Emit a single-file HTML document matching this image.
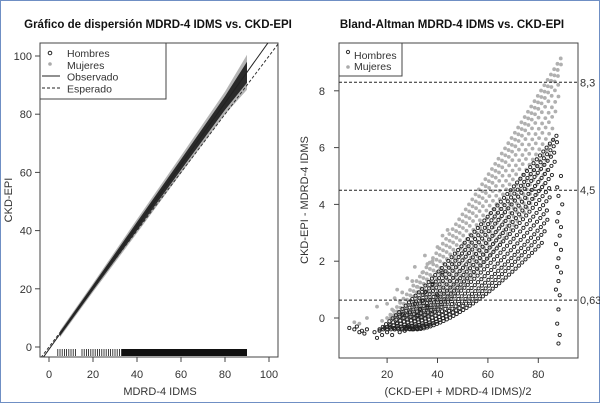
<!DOCTYPE html>
<html><head><meta charset="utf-8"><style>
body{margin:0;background:#fff}
svg{display:block;font-family:"Liberation Sans",sans-serif}
</style></head><body>
<svg id="c" width="600" height="403" viewBox="0 0 600 403">
<rect x="0.5" y="0.5" width="599" height="402" fill="#fff" stroke="#6f8fc4"/>
<text x="158" y="28" font-size="11.5" font-weight="bold" text-anchor="middle" fill="#111">Gráfico de dispersión MDRD-4 IDMS vs. CKD-EPI</text>
<text x="452" y="28" font-size="11.5" font-weight="bold" text-anchor="middle" fill="#111">Bland-Altman MDRD-4 IDMS vs. CKD-EPI</text>
<g id="L"></g>
<g id="R"></g>
</svg>
<script>
// ---- Left chart data ----
const leftXTicks=[0,20,40,60,80,100];
const leftYTicks=[0,20,40,60,80,100];
const obsSlope=1.058, obsIntercept=-0.8;
const bandX=[5,20,40,60,80,90];
const bandHalfWidth=[0.8,1.0,1.6,2.0,2.6,4.0];
const rugX=[4,5,6,7,8,9,10,11,12,15,16,17,18,19,20,21,22,23,24,25,26,27,28,29,30,31,32,33];
const rugSolidFrom=33, rugSolidTo=90;
// ---- Right chart data ----
const rightXTicks=[20,40,60,80];
const rightYTicks=[0,2,4,6,8];
const refLines=[8.3,4.5,0.63];
const refLabels=["8,3","4,5","0,63"];
const menEndX=[82,83,84,84.5,85,85.5,86,86.5,87,87.5,88];
const menEndY=[2.7,3.1,3.5,3.9,4.3,4.7,5.1,5.5,5.9,6.2,6.5];
const womenEndX=[83,84,85,86,86.5,87,88,88.5,89,89.5,90];
const womenEndY=[4.8,5.3,5.8,6.3,6.8,7.3,7.8,8.3,8.7,9.0,9.3];
const menTailX=[88,88.5,87.5,88,88.5,87,88,89,87.5,88,89,87,88.5,89,87.5,88,89.5,88,87.5,89];
const menTailY=[-0.9,-0.6,-0.2,0.3,0.8,1.0,1.3,1.6,1.8,2.1,2.4,2.6,2.9,3.2,3.4,3.7,4.0,4.3,4.6,5.0];
const menLowX=[5,7,8,9,10,11,12,15,16,17,18,19,20,21,22,23,24,25,26,27,28,29,30,31,32,33,34,35,36,38,40,42];
const menLowY=[-0.35,-0.4,-0.3,-0.5,-0.45,-0.55,-0.4,-0.5,-0.7,-0.45,-0.6,-0.35,-0.5,-0.3,-0.6,-0.4,-0.2,-0.5,0.1,-0.45,-0.3,0.2,-0.4,0.5,0.1,0.3,0.6,0.9,0.4,1.2,0.8,1.6];
const womenLowX=[7,9,12,16,18,20,22,23,24,25,26,28,30,31,32,34,35,36,38,40,42,44];
const womenLowY=[-0.15,-0.2,0.0,0.4,-0.1,0.5,0.3,0.7,1.0,0.6,0.9,1.4,1.3,1.8,1.1,1.6,2.2,1.9,2.0,2.5,2.9,3.1];

const NS="http://www.w3.org/2000/svg";
function mk(p,t,a){const e=document.createElementNS(NS,t);for(const k in a)e.setAttribute(k,a[k]);p.appendChild(e);return e;}
const L=document.getElementById('L'),R=document.getElementById('R');
const lx=v=>49+2.2*v, ly=v=>347-2.91*v;
let e;
e=mk(L,'rect',{x:40,y:43,width:238,height:314,fill:'none',stroke:'#444'});


leftXTicks.forEach(t=>{
 e=mk(L,'line',{x1:lx(t),x2:lx(t),y1:357,y2:362,stroke:'#444'});
 
 
 e=mk(L,'text',{x:lx(t),y:378,'font-size':11,'text-anchor':'middle',fill:'#333'});e.textContent=t;
 
 
});
leftYTicks.forEach(t=>{
 e=mk(L,'line',{x1:35,x2:40,y1:ly(t),y2:ly(t),stroke:'#444'});
 
 
 e=mk(L,'text',{x:32,y:ly(t)+4,'font-size':11,'text-anchor':'end',fill:'#333'});e.textContent=t;
 
 
});
e=mk(L,'text',{x:160,y:395,'font-size':11,'text-anchor':'middle',fill:'#333'});e.textContent='MDRD-4 IDMS';


e=mk(L,'text',{x:0,y:0,'font-size':11,'text-anchor':'middle',fill:'#333',transform:'translate(12,200) rotate(-90)'});e.textContent='CKD-EPI';


function band(scale,color,name){
 let up=[],dn=[];
 bandX.forEach((x,i)=>{const y=obsSlope*x+obsIntercept;up.push(lx(x)+','+ly(y+bandHalfWidth[i]*scale));dn.unshift(lx(x)+','+ly(y-bandHalfWidth[i]*scale));});
 e=mk(L,'polygon',{points:up.concat(dn).join(' '),fill:color});
 
 
}
band(1.5,'#b5b5b5','women-points');
band(0.9,'#2a2a2a','men-points');
const clip=mk(L,'clipPath',{id:'lc'});mk(clip,'rect',{x:40,y:43,width:238,height:314});
e=mk(L,'line',{x1:lx(-5),y1:ly(-5),x2:lx(105),y2:ly(105),stroke:'#333','stroke-dasharray':'3,2','clip-path':'url(#lc)'});


e=mk(L,'line',{x1:lx(-5),y1:ly(obsSlope*-5+obsIntercept),x2:lx(105),y2:ly(obsSlope*105+obsIntercept),stroke:'#222','clip-path':'url(#lc)'});


rugX.forEach(x=>{e=mk(L,'line',{x1:lx(x),x2:lx(x),y1:349,y2:356,stroke:'#111','stroke-width':0.8});
 
 });
e=mk(L,'rect',{x:lx(rugSolidFrom),y:349,width:lx(rugSolidTo)-lx(rugSolidFrom),height:7,fill:'#111'});


const lg=mk(L,'g',{});


mk(lg,'rect',{x:40,y:43,width:126,height:56,fill:'#fff',stroke:'#444'});
mk(lg,'circle',{cx:50,cy:53,r:1.8,fill:'none',stroke:'#222'});
mk(lg,'circle',{cx:50,cy:64,r:1.8,fill:'#aaa'});
mk(lg,'line',{x1:42,x2:60,y1:76,y2:76,stroke:'#222'});
mk(lg,'line',{x1:42,x2:60,y1:88,y2:88,stroke:'#222','stroke-dasharray':'3,2'});
['Hombres','Mujeres','Observado','Esperado'].forEach((s,i)=>{e=mk(lg,'text',{x:67,y:57+i*11.8,'font-size':10.5,fill:'#333'});e.textContent=s;});

const rx=v=>336.7+2.52*v, ry=v=>318-28.4*v;
e=mk(R,'rect',{x:339,y:43,width:239,height:315,fill:'none',stroke:'#444'});


rightXTicks.forEach(t=>{
 e=mk(R,'line',{x1:rx(t),x2:rx(t),y1:358,y2:363,stroke:'#444'});
 
 
 e=mk(R,'text',{x:rx(t),y:378,'font-size':11,'text-anchor':'middle',fill:'#333'});e.textContent=t;
 
 
});
rightYTicks.forEach(t=>{
 e=mk(R,'line',{x1:334,x2:339,y1:ry(t),y2:ry(t),stroke:'#444'});
 
 
 e=mk(R,'text',{x:325,y:ry(t)+4,'font-size':11,'text-anchor':'end',fill:'#333'});e.textContent=t;
 
 
});
e=mk(R,'text',{x:458,y:395,'font-size':11,'text-anchor':'middle',fill:'#333'});e.textContent='(CKD-EPI + MDRD-4 IDMS)/2';


e=mk(R,'text',{x:0,y:0,'font-size':11,'text-anchor':'middle',fill:'#333',transform:'translate(308,200) rotate(-90)'});e.textContent='CKD-EPI - MDRD-4 IDMS';


function wpt(x,y){e=mk(R,'circle',{cx:rx(x),cy:ry(y),r:1.9,fill:'#b0b0b0'});
 
 }
function mpt(x,y){e=mk(R,'circle',{cx:rx(x),cy:ry(y),r:1.6,fill:'none',stroke:'#222','stroke-width':0.9});
 
 }
womenEndX.forEach((xe,i)=>{const x0=34-1.4*i,y0=0,ye=womenEndY[i],p=1.3-0.02*i;
 for(let x=x0;x<=xe;x+=1.3){const f=(x-x0)/(xe-x0);wpt(x,y0+(ye-y0)*Math.pow(f,p));}});
womenLowX.forEach((x,i)=>wpt(x,womenLowY[i]));
menEndX.forEach((xe,i)=>{const x0=32-1.5*i,y0=-0.4,ye=menEndY[i],p=1.5-0.04*i;
 for(let x=x0;x<=xe;x+=1.3){const f=(x-x0)/(xe-x0);mpt(x,y0+(ye-y0)*Math.pow(f,p));}});
menLowX.forEach((x,i)=>mpt(x,menLowY[i]));
menTailX.forEach((x,i)=>mpt(x,menTailY[i]));
refLines.forEach((v,i)=>{
 e=mk(R,'line',{x1:339,x2:578,y1:ry(v),y2:ry(v),stroke:'#222','stroke-dasharray':'3,2'});
 
 
 e=mk(R,'text',{x:580,y:ry(v)+4,'font-size':11,fill:'#333'});e.textContent=refLabels[i];
 
 
});
const rg=mk(R,'g',{});


mk(rg,'rect',{x:339,y:43,width:63,height:33,fill:'#fff',stroke:'#444'});
mk(rg,'circle',{cx:348,cy:52,r:1.6,fill:'none',stroke:'#333'});
mk(rg,'circle',{cx:348,cy:67,r:1.8,fill:'#aaa'});
['Hombres','Mujeres'].forEach((s,i)=>{e=mk(rg,'text',{x:354,y:59+i*11,'font-size':10.5,fill:'#333'});e.textContent=s;});
</script>
</body></html>
